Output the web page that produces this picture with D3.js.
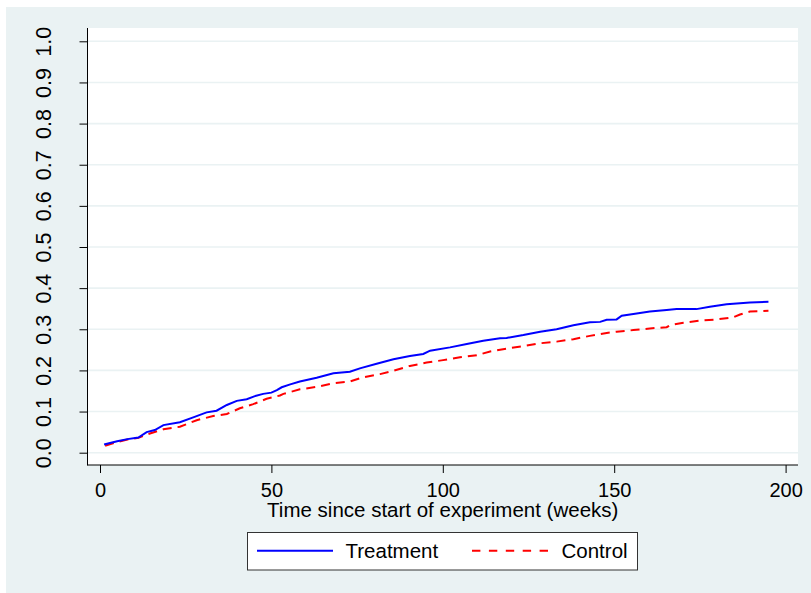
<!DOCTYPE html>
<html>
<head>
<meta charset="utf-8">
<script src="https://cdn.jsdelivr.net/npm/d3@7"></script>
<style>
  html, body { margin: 0; padding: 0; background: #ffffff; }
  svg { display: block; }
  text { font-family: "Liberation Sans", Arial, Helvetica, sans-serif; fill: #000; }
</style>
</head>
<body>
<svg id="chart" width="811" height="593"></svg>
<script>
// ---- data ----
const xTicks = [0, 50, 100, 150, 200];
const yTicks = [0.0, 0.1, 0.2, 0.3, 0.4, 0.5, 0.6, 0.7, 0.8, 0.9, 1.0];
const xTitle = "Time since start of experiment (weeks)";
const seriesNames = ["Treatment", "Control"];

const treatmentTime = [1.2, 5, 8, 11.2, 13.6, 16, 18.5, 23.3, 27.2, 31.1, 34, 37, 39.9, 42.8, 45, 47.6, 50, 51.6, 53, 55.5, 58.3, 63.2, 68.1, 72.9, 75.8, 80.7, 85.6, 90.4, 94.3, 96.3, 102.1, 107, 111.8, 116.7, 118.6, 123.5, 128.4, 133.2, 138.1, 142.9, 145.9, 147.8, 150.7, 152.2, 155.6, 160.4, 165.3, 168.2, 174, 177.9, 182.8, 189.6, 195];
const treatmentValue = [0.020, 0.028, 0.033, 0.037, 0.050, 0.055, 0.067, 0.074, 0.086, 0.098, 0.102, 0.116, 0.126, 0.130, 0.137, 0.143, 0.146, 0.152, 0.159, 0.166, 0.173, 0.182, 0.193, 0.197, 0.205, 0.216, 0.227, 0.235, 0.240, 0.248, 0.256, 0.264, 0.272, 0.278, 0.279, 0.286, 0.294, 0.300, 0.310, 0.317, 0.318, 0.323, 0.324, 0.333, 0.337, 0.343, 0.347, 0.349, 0.349, 0.355, 0.361, 0.365, 0.367];

const controlTime = [1.5, 5, 8, 11.2, 14, 18.5, 23.3, 28.2, 33, 37, 40.8, 44.7, 48.6, 52.5, 53.5, 58.3, 63.2, 68.1, 72.9, 76.7, 81.7, 85.6, 90.4, 95.3, 100.1, 105, 109.9, 113.8, 118.6, 123.5, 128.4, 133.2, 138.1, 142.9, 147.8, 150.7, 155.6, 160.4, 165.3, 166.3, 170.2, 175, 179.9, 184.7, 186.7, 189.6, 195];
const controlValue = [0.017, 0.026, 0.032, 0.036, 0.045, 0.057, 0.063, 0.079, 0.089, 0.094, 0.108, 0.118, 0.131, 0.139, 0.143, 0.154, 0.160, 0.169, 0.173, 0.183, 0.191, 0.199, 0.211, 0.219, 0.225, 0.232, 0.237, 0.246, 0.253, 0.259, 0.266, 0.270, 0.276, 0.284, 0.291, 0.294, 0.298, 0.302, 0.305, 0.310, 0.316, 0.321, 0.324, 0.329, 0.336, 0.343, 0.345];

// ---- layout ----
const W = 811, H = 593;
const bgColor = "#eaf2f3";
const plotL = 87.5, plotR = 798, plotT = 28, plotB = 465;

const svg = d3.select("#chart");

// outer graph region
svg.append("rect").attr("x", 6).attr("y", 7).attr("width", W - 6).attr("height", H - 7).attr("fill", bgColor);
// plot region
svg.append("rect").attr("x", plotL).attr("y", plotT).attr("width", plotR - plotL).attr("height", plotB - plotT).attr("fill", "#ffffff");

const x = d3.scaleLinear().domain([0, 200]).range([100, 785.6]);
const y = d3.scaleLinear().domain([0, 1]).range([452.7, 41.3]);

// gridlines
svg.append("g").selectAll("line").data(yTicks).join("line")
  .attr("x1", plotL + 0.5).attr("x2", plotR)
  .attr("y1", d => y(d)).attr("y2", d => y(d))
  .attr("stroke", bgColor).attr("stroke-width", 1.6);

// y axis
const yAxis = svg.append("g").attr("transform", `translate(${plotL},0)`)
  .call(d3.axisLeft(y).tickValues(yTicks).tickSize(8).tickFormat(d3.format(".1f")));
yAxis.select(".domain").remove();
yAxis.selectAll(".tick line").attr("stroke", "#000").attr("stroke-width", 1);
yAxis.selectAll(".tick text")
  .attr("x", null).attr("dy", null)
  .attr("text-anchor", "middle")
  .attr("transform", `translate(${51 - plotL},0) rotate(-90)`)
  .style("font-size", "21.5px")
  .style("font-family", "'Liberation Sans', Arial, sans-serif");

// x axis
const xAxis = svg.append("g").attr("transform", `translate(0,${plotB})`)
  .call(d3.axisBottom(x).tickValues(xTicks).tickSize(8).tickFormat(d3.format("d")));
xAxis.select(".domain").remove();
xAxis.selectAll(".tick line").attr("stroke", "#000").attr("stroke-width", 1);
xAxis.selectAll(".tick text")
  .attr("y", 32).attr("dy", null)
  .style("font-size", "20px")
  .style("font-family", "'Liberation Sans', Arial, sans-serif");

// axis lines
svg.append("line").attr("x1", plotL).attr("x2", plotL).attr("y1", plotT).attr("y2", plotB + 0.5)
  .attr("stroke", "#000").attr("stroke-width", 1);
svg.append("line").attr("x1", plotL).attr("x2", plotR).attr("y1", plotB).attr("y2", plotB)
  .attr("stroke", "#000").attr("stroke-width", 1);

// x title
svg.append("text").attr("x", (plotL + plotR) / 2).attr("y", 516.5)
  .attr("text-anchor", "middle").style("font-size", "20.5px").text(xTitle);

// lines
const line = d3.line().x(d => x(d[0])).y(d => y(d[1]));
const tData = treatmentTime.map((t, i) => [t, treatmentValue[i]]);
const cData = controlTime.map((t, i) => [t, controlValue[i]]);

svg.append("path").datum(cData).attr("d", line)
  .attr("fill", "none").attr("stroke", "#ff0000").attr("stroke-width", 2)
  .attr("stroke-dasharray", "9,6");
svg.append("path").datum(tData).attr("d", line)
  .attr("fill", "none").attr("stroke", "#0000ff").attr("stroke-width", 2);

// legend
const leg = svg.append("g");
leg.append("rect").attr("x", 247.5).attr("y", 532.5).attr("width", 390).attr("height", 37.5)
  .attr("fill", "#ffffff").attr("stroke", "#333").attr("stroke-width", 1);
leg.append("line").attr("x1", 257).attr("x2", 333).attr("y1", 550.7).attr("y2", 550.7)
  .attr("stroke", "#0000ff").attr("stroke-width", 2);
leg.append("text").attr("x", 345.5).attr("y", 558).style("font-size", "20.5px").text(seriesNames[0]);
leg.append("line").attr("x1", 472).attr("x2", 548).attr("y1", 550.7).attr("y2", 550.7)
  .attr("stroke", "#ff0000").attr("stroke-width", 2).attr("stroke-dasharray", "8.4,8.5");
leg.append("text").attr("x", 561.5).attr("y", 558).style("font-size", "20.5px").text(seriesNames[1]);
</script>
</body>
</html>
